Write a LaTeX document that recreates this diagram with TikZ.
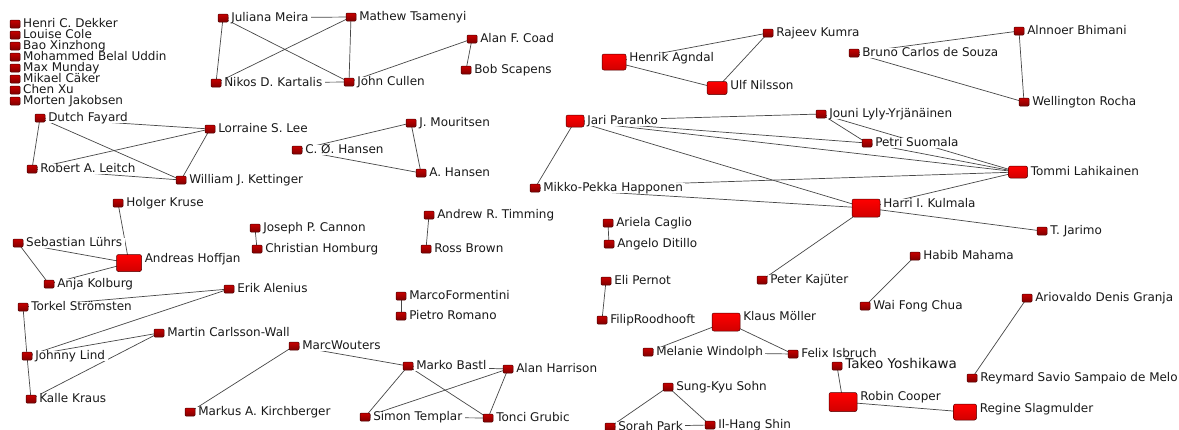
\documentclass[tikz,border=0pt]{standalone}
\usepackage{fontspec}
\newfontfamily\lblfont{DejaVu Sans}
\usetikzlibrary{positioning}
\pgfdeclarelayer{bg}
\pgfsetlayers{bg,main}
\tikzset{
 sq/.style={draw=red!30!black, line width=0.5pt, rounded corners=1pt, inner sep=0pt, minimum width=10pt, minimum height=8pt, top color=red!78!black, bottom color=red!50!black},
 bsq/.style={sq, rounded corners=2pt, top color=red, bottom color=red!82!black},
 lab/.style={fill=white, inner xsep=2.5pt, inner ysep=0pt, text height=8.6pt, text depth=1.4pt, text=black!90, font=\lblfont\fontsize{12}{13}\selectfont},
 edge/.style={draw=black!72, line width=0.7pt},
}
\newcommand\sn[3]{\node[sq] (#1) at (#2) {}; \node[lab,right=0.3pt of #1] (#1-l) {#3};}
\newcommand\bn[6]{\node[bsq,minimum width=#3pt,minimum height=#4pt] (#1) at (#2) {}; \node[lab,right=0.3pt of #1,yshift=#6pt] (#1-l) {#5};}
\begin{document}
\begin{tikzpicture}[x=1pt,y=-1pt]
\begin{pgfonlayer}{bg}
\fill[white] (0,0) rectangle (1179,429);
\end{pgfonlayer}
\useasboundingbox (0,0) rectangle (1179,429);
% isolated list
\sn{dek}{15,24}{Henri C. Dekker}
\sn{col}{15,35}{Louise Cole}
\sn{bao}{15,46}{Bao Xinzhong}
\sn{moh}{15,57}{Mohammed Belal Uddin}
\sn{mun}{15,68}{Max Munday}
\sn{cak}{15,79}{Mikael Cäker}
\sn{chen}{15,90}{Chen Xu}
\sn{jak}{15,101}{Morten Jakobsen}
% Fayard cluster
\sn{fay}{40,118}{Dutch Fayard}
\sn{lee}{210,129}{Lorraine S. Lee}
\sn{lei}{32,169}{Robert A. Leitch}
\sn{ket}{181,180}{William J. Kettinger}
% Meira cluster
\sn{mei}{223,18}{Juliana Meira}
\sn{kar}{216,83}{Nikos D. Kartalis}
\sn{tsa}{351,17}{Mathew Tsamenyi}
\sn{cul}{349,82}{John Cullen}
\sn{coa}{472,39}{Alan F. Coad}
\sn{sca}{466,70}{Bob Scapens}
% Hansen
\sn{mou}{411,123}{J. Mouritsen}
\sn{chan}{297,150}{C. Ø. Hansen}
\sn{ahan}{421,173}{A. Hansen}
% Paranko cluster
\bn{jar}{575,121}{18}{12}{Jari Paranko}{0}
\sn{hap}{535,188}{Mikko-Pekka Happonen}
\sn{jou}{821,114}{Jouni Lyly-Yrjänäinen}
\sn{suo}{867,143}{Petri Suomala}
\bn{lah}{1018,172}{19}{12}{Tommi Lahikainen}{0}
\bn{kul}{866,208}{28}{18}{Harri I. Kulmala}{4}
\sn{jari}{1042,231}{T. Jarimo}
\sn{kaj}{762,280}{Peter Kajüter}
% Agndal
\bn{agn}{614,62}{24}{16}{Henrik Agndal}{4}
\bn{nil}{717,88}{20}{13}{Ulf Nilsson}{2}
\sn{kum}{768,33}{Rajeev Kumra}
% Bhimani
\sn{bhi}{1019,31}{Alnnoer Bhimani}
\sn{sou}{854,53}{Bruno Carlos de Souza}
\sn{roc}{1024,102}{Wellington Rocha}
% Hoffjan
\sn{kru}{118,203}{Holger Kruse}
\sn{luh}{18,243}{Sebastian Lührs}
\bn{hof}{129,263}{25}{17}{Andreas Hoffjan}{4}
\sn{kol}{49,284}{Anja Kolburg}
\sn{can}{255,228}{Joseph P. Cannon}
\sn{hom}{257,249}{Christian Homburg}
% Lind
\sn{ale}{229,289}{Erik Alenius}
\sn{str}{23,307}{Torkel Strömsten}
\sn{wal}{159,333}{Martin Carlsson-Wall}
\sn{lin}{27,356}{Johnny Lind}
\sn{kra}{31,399}{Kalle Kraus}
% Wouters
\sn{wou}{294,346}{MarcWouters}
\sn{kir}{190,412}{Markus A. Kirchberger}
\sn{tim}{429,215}{Andrew R. Timming}
\sn{bro}{426,249}{Ross Brown}
\sn{for}{401,296}{MarcoFormentini}
\sn{rom}{401,316}{Pietro Romano}
\sn{bas}{408,366}{Marko Bastl}
\sn{har}{508,369}{Alan Harrison}
\sn{tem}{365,417}{Simon Templar}
\sn{gru}{488,418}{Tonci Grubic}
% middle bottom
\sn{cag}{608,223}{Ariela Caglio}
\sn{dit}{609,244}{Angelo Ditillo}
\sn{per}{606,281}{Eli Pernot}
\sn{roo}{602,320}{FilipRoodhooft}
\bn{mol}{726,322}{28}{18}{Klaus Möller}{5}
\sn{win}{648,352}{Melanie Windolph}
\sn{isb}{793,354}{Felix Isbruch}
\node[sq] (yos) at (837,366) {};
\node[lab,right=0.3pt of yos,yshift=2pt,text height=9.8pt,font=\lblfont\fontsize{13.5}{14}\selectfont] (yos-l) {Takeo Yoshikawa};
\bn{coo}{843,402}{28}{19}{Robin Cooper}{5}
\bn{sla}{965,412}{23}{16}{Regine Slagmulder}{3}
\sn{soh}{668,387}{Sung-Kyu Sohn}
\sn{par}{610,427}{Sorah Park}
\sn{shi}{710,425}{Il-Hang Shin}
\sn{mah}{915,256}{Habib Mahama}
\sn{chu}{865,306}{Wai Fong Chua}
\sn{gra}{1027,298}{Ariovaldo Denis Granja}
\sn{mel}{972,378}{Reymard Savio Sampaio de Melo}
\begin{pgfonlayer}{bg}
\foreach \a/\b in {fay/lee,fay/lei,fay/ket,lei/lee,lei/ket,lee/ket,
 mei/tsa,mei/kar,mei/cul,kar/tsa,kar/cul,tsa/cul,cul/coa,coa/sca,
 chan/mou,chan/ahan,mou/ahan,
 jar/jou,jar/suo,jar/lah,jar/kul,jar/hap,hap/lah,hap/kul,jou/suo,jou/lah,suo/lah,kul/lah,kul/jari,kul/kaj,
 agn/kum,agn/nil,nil/kum,sou/bhi,sou/roc,bhi/roc,
 kru/hof,luh/hof,luh/kol,kol/hof,can/hom,
 str/ale,str/lin,lin/ale,lin/wal,lin/kra,kra/wal,
 wou/kir,wou/bas,tim/bro,for/rom,
 bas/har,bas/tem,bas/gru,har/tem,har/gru,tem/gru,
 cag/dit,per/roo,mol/win,mol/isb,win/isb,yos/coo,coo/sla,
 soh/par,soh/shi,par/shi,mah/chu,gra/mel}
 {\draw[edge] (\a.center) -- (\b.center);}
\end{pgfonlayer}
\end{tikzpicture}
\end{document}
